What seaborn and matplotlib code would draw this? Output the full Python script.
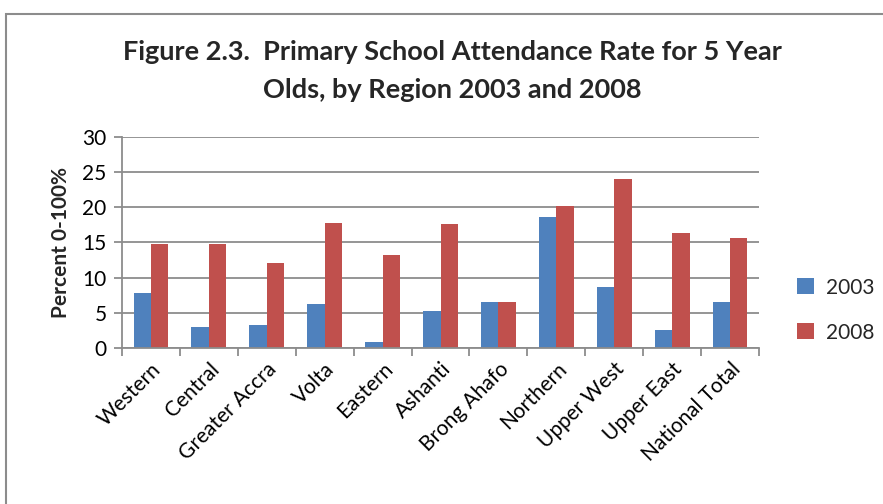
import matplotlib
matplotlib.use("Agg")
import matplotlib.pyplot as plt
import seaborn as sns
import pandas as pd
from matplotlib.patches import Rectangle
from matplotlib.ticker import FixedLocator

regions = ["Western", "Central", "Greater Accra", "Volta", "Eastern", "Ashanti",
           "Brong Ahafo", "Northern", "Upper West", "Upper East", "National Total"]
rate_2003 = [7.8, 3.0, 3.3, 6.3, 0.9, 5.2, 6.5, 18.6, 8.7, 2.5, 6.5]
rate_2008 = [14.8, 14.8, 12.1, 17.8, 13.2, 17.7, 6.5, 20.2, 24.0, 16.4, 15.6]
years = ["2003", "2008"]
colors = ["#4F81BD", "#C0504D"]

df = pd.DataFrame({
    "Region": regions * 2,
    "Year": [years[0]] * len(regions) + [years[1]] * len(regions),
    "Rate": rate_2003 + rate_2008,
})

sns.set_theme(style="white")
plt.rcParams["font.family"] = ["Lato", "DejaVu Sans"]

fig = plt.figure(figsize=(8.83, 5.04), dpi=100)
ax = fig.add_axes([122 / 883, 1 - 348 / 504, (759 - 122) / 883, (348 - 137) / 504])

sns.barplot(data=df, x="Region", y="Rate", hue="Year", palette=colors,
            width=0.6, ax=ax, saturation=1, edgecolor="none")

ax.set_ylim(0, 30)
ax.set_xlim(-0.5, len(regions) - 0.5)
ax.set_yticks(range(0, 31, 5))
ax.yaxis.grid(True, color="#8C8C8C", linewidth=1.3)
ax.set_axisbelow(True)
for side in ["top", "right"]:
    ax.spines[side].set_visible(False)
for side in ["left", "bottom"]:
    ax.spines[side].set_color("#8C8C8C")
    ax.spines[side].set_linewidth(1.3)

ax.tick_params(axis="y", which="major", left=True, length=6, width=1.3,
               color="#8C8C8C", labelsize=15, pad=5)
ax.tick_params(axis="x", which="major", bottom=False, labelsize=15, pad=2)
ax.xaxis.set_minor_locator(FixedLocator([i - 0.5 for i in range(len(regions) + 1)]))
ax.tick_params(axis="x", which="minor", bottom=True, length=6, width=1.3,
               color="#8C8C8C")
ax.set_xticks(range(len(regions)))
ax.set_xticklabels(regions, rotation=45, ha="right", rotation_mode="anchor")
for lbl in ax.get_xticklabels() + ax.get_yticklabels():
    lbl.set_color("black")

ax.set_xlabel("")
ax.set_ylabel("Percent 0-100%", fontsize=15, fontweight="bold", labelpad=8)

ax.legend(loc="center left", bbox_to_anchor=(1.03, 0.18), frameon=False,
          fontsize=15, handlelength=0.8, handleheight=0.8, labelspacing=1.2,
          handletextpad=0.6)

fig.text(452 / 883, 1 - 52 / 504, "Figure 2.3.  Primary School Attendance Rate for 5 Year",
         ha="center", va="center", fontsize=19.5, fontweight="bold")
fig.text(452 / 883, 1 - 90 / 504, "Olds, by Region 2003 and 2008",
         ha="center", va="center", fontsize=19.5, fontweight="bold")

fig.patches.append(Rectangle((6 / 883, -0.1), 1.2, 1 - 14 / 504 + 0.1,
                             transform=fig.transFigure, fill=False,
                             edgecolor="#8C8C8C", linewidth=1.5))

fig.savefig("out.png", dpi=100, facecolor="white")
